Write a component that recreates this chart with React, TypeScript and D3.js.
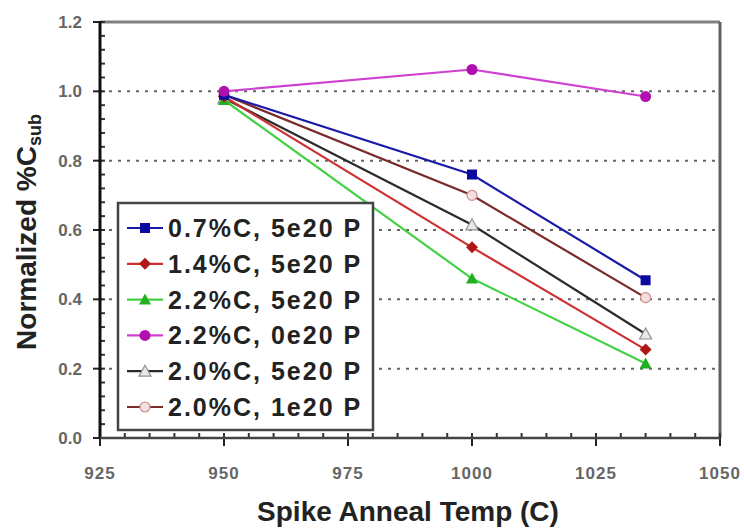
import React from "react";
import * as d3 from "d3";

const temps = [950, 1000, 1035];
const seriesNames = [
  "0.7%C, 5e20 P",
  "1.4%C, 5e20 P",
  "2.2%C, 5e20 P",
  "2.2%C, 0e20 P",
  "2.0%C, 5e20 P",
  "2.0%C, 1e20 P",
];
const blueVals = [0.99, 0.76, 0.455];
const redVals = [0.985, 0.55, 0.255];
const greenVals = [0.975, 0.46, 0.215];
const magentaVals = [1.0, 1.063, 0.985];
const blackVals = [0.98, 0.615, 0.3];
const brownVals = [0.99, 0.7, 0.405];
const xTicks = [925, 950, 975, 1000, 1025, 1050];
const yTicks = [0, 0.2, 0.4, 0.6, 0.8, 1.0, 1.2];
const gridVals = [0.2, 0.4, 0.6, 0.8, 1.0];

type Marker = "square" | "diamond" | "triangle" | "circle" | "otriangle" | "ocircle";
const styles: { color: string; marker: Marker; fill: string; mcolor: string }[] = [
  { color: "#1a1aa8", marker: "square", fill: "#0a0aa0", mcolor: "#0a0aa0" },
  { color: "#cc3030", marker: "diamond", fill: "#b01818", mcolor: "#b01818" },
  { color: "#44d044", marker: "triangle", fill: "#22b022", mcolor: "#22b022" },
  { color: "#d040d0", marker: "circle", fill: "#b010b0", mcolor: "#b010b0" },
  { color: "#2a2a2a", marker: "otriangle", fill: "#e8e8e8", mcolor: "#909090" },
  { color: "#7a2a2a", marker: "ocircle", fill: "#f4dede", mcolor: "#c89090" },
];
const allVals = [blueVals, redVals, greenVals, magentaVals, blackVals, brownVals];

const L = 100, T = 22, R = 720, B = 438;
const x = d3.scaleLinear().domain([925, 1050]).range([L, R]);
const y = d3.scaleLinear().domain([0, 1.2]).range([B, T]);

function MarkerShape({ m, cx, cy, fill, stroke }: { m: Marker; cx: number; cy: number; fill: string; stroke: string }) {
  const s = 5;
  switch (m) {
    case "square":
      return <rect x={cx - s} y={cy - s} width={2 * s} height={2 * s} fill={fill} />;
    case "diamond":
      return <path d={`M${cx},${cy - 6}L${cx + 6},${cy}L${cx},${cy + 6}L${cx - 6},${cy}Z`} fill={fill} />;
    case "triangle":
      return <path d={`M${cx},${cy - 6}L${cx + 6},${cy + 5}L${cx - 6},${cy + 5}Z`} fill={fill} />;
    case "circle":
      return <circle cx={cx} cy={cy} r={5.5} fill={fill} />;
    case "otriangle":
      return <path d={`M${cx},${cy - 6}L${cx + 6},${cy + 5}L${cx - 6},${cy + 5}Z`} fill={fill} stroke={stroke} strokeWidth={1.2} />;
    case "ocircle":
      return <circle cx={cx} cy={cy} r={5} fill={fill} stroke={stroke} strokeWidth={1.2} />;
  }
}

export default function App() {
  const line = d3
    .line<number>()
    .x((_, i) => x(temps[i]))
    .y((d) => y(d));
  const minorX = d3.range(925, 1050.01, 5);
  const minorY = d3.range(0, 1.2001, 0.04);
  const drawOrder = [5, 4, 2, 1, 0, 3];
  const legX = 118, legY = 203, legW = 255, legH = 227;
  const rowY0 = 228, rowDy = 35.8;
  return (
    <svg width={744} height={530} style={{ position: "absolute", left: 0, top: 0, background: "#fff" }} fontFamily="Liberation Sans, Arial, sans-serif">
      <rect x={0} y={0} width={744} height={530} fill="#fff" />
      {/* gridlines */}
      {gridVals.map((v) => (
        <line key={v} x1={L} x2={R} y1={y(v)} y2={y(v)} stroke="#666" strokeWidth={2} strokeDasharray="3,6" />
      ))}
      {/* frame */}
      <line x1={L} x2={R} y1={T} y2={T} stroke="#808080" strokeWidth={3} />
      <line x1={R} x2={R} y1={T} y2={B} stroke="#606060" strokeWidth={3} />
      {/* minor ticks */}
      {minorY.map((v, i) => (
        <line key={"my" + i} x1={L} x2={L + 5} y1={y(v)} y2={y(v)} stroke="#333" strokeWidth={2} />
      ))}
      {minorX.map((v, i) => (
        <line key={"mx" + i} x1={x(v)} x2={x(v)} y1={B} y2={B - 5} stroke="#333" strokeWidth={2} />
      ))}
      {yTicks.map((v) => (
        <line key={"ty" + v} x1={L - 7} x2={L} y1={y(v)} y2={y(v)} stroke="#222" strokeWidth={2} />
      ))}
      {xTicks.map((v) => (
        <line key={"tx" + v} x1={x(v)} x2={x(v)} y1={B} y2={B + 8} stroke="#222" strokeWidth={2} />
      ))}
      {/* axes */}
      <line x1={L} x2={L} y1={T - 1} y2={B + 1} stroke="#111" strokeWidth={3} />
      <line x1={L} x2={R} y1={B} y2={B} stroke="#444" strokeWidth={2.5} />
      {/* tick labels */}
      {yTicks.map((v) => (
        <text key={"ly" + v} x={82} y={y(v) + 6} textAnchor="end" fontSize={17} fontWeight="bold" fill="#666">
          {v.toFixed(1)}
        </text>
      ))}
      {xTicks.map((v) => (
        <text key={"lx" + v} x={x(v)} y={479} textAnchor="middle" fontSize={17} fontWeight="bold" fill="#666" letterSpacing={1}>
          {v}
        </text>
      ))}
      {/* series */}
      {drawOrder.map((si) => (
        <g key={"s" + si}>
          <path d={line(allVals[si]) || ""} fill="none" stroke={styles[si].color} strokeWidth={2.2} />
          {allVals[si].map((v, i) => (
            <MarkerShape key={i} m={styles[si].marker} cx={x(temps[i])} cy={y(v)} fill={styles[si].fill} stroke={styles[si].mcolor} />
          ))}
        </g>
      ))}
      {/* legend */}
      <rect x={legX} y={legY} width={legW} height={legH} fill="#fff" stroke="#444" strokeWidth={2.5} />
      {seriesNames.map((n, i) => {
        const cy = rowY0 + i * rowDy;
        return (
          <g key={"lg" + i}>
            <line x1={127} x2={163} y1={cy} y2={cy} stroke={styles[i].color} strokeWidth={2.2} />
            <MarkerShape m={styles[i].marker} cx={145} cy={cy} fill={styles[i].fill} stroke={styles[i].mcolor} />
            <text x={168} y={cy + 9} fontSize={25} fontWeight="bold" fill="#222" letterSpacing={2}>
              {n}
            </text>
          </g>
        );
      })}
      {/* axis titles */}
      <text x={408} y={521} textAnchor="middle" fontSize={28} fontWeight="bold" fill="#222">
        Spike Anneal Temp (C)
      </text>
      <text transform="translate(36,232) rotate(-90)" textAnchor="middle" fontSize={28} fontWeight="bold" fill="#222">
        Normalized %C<tspan fontSize={18} dy={5}>sub</tspan>
      </text>
    </svg>
  );
}
